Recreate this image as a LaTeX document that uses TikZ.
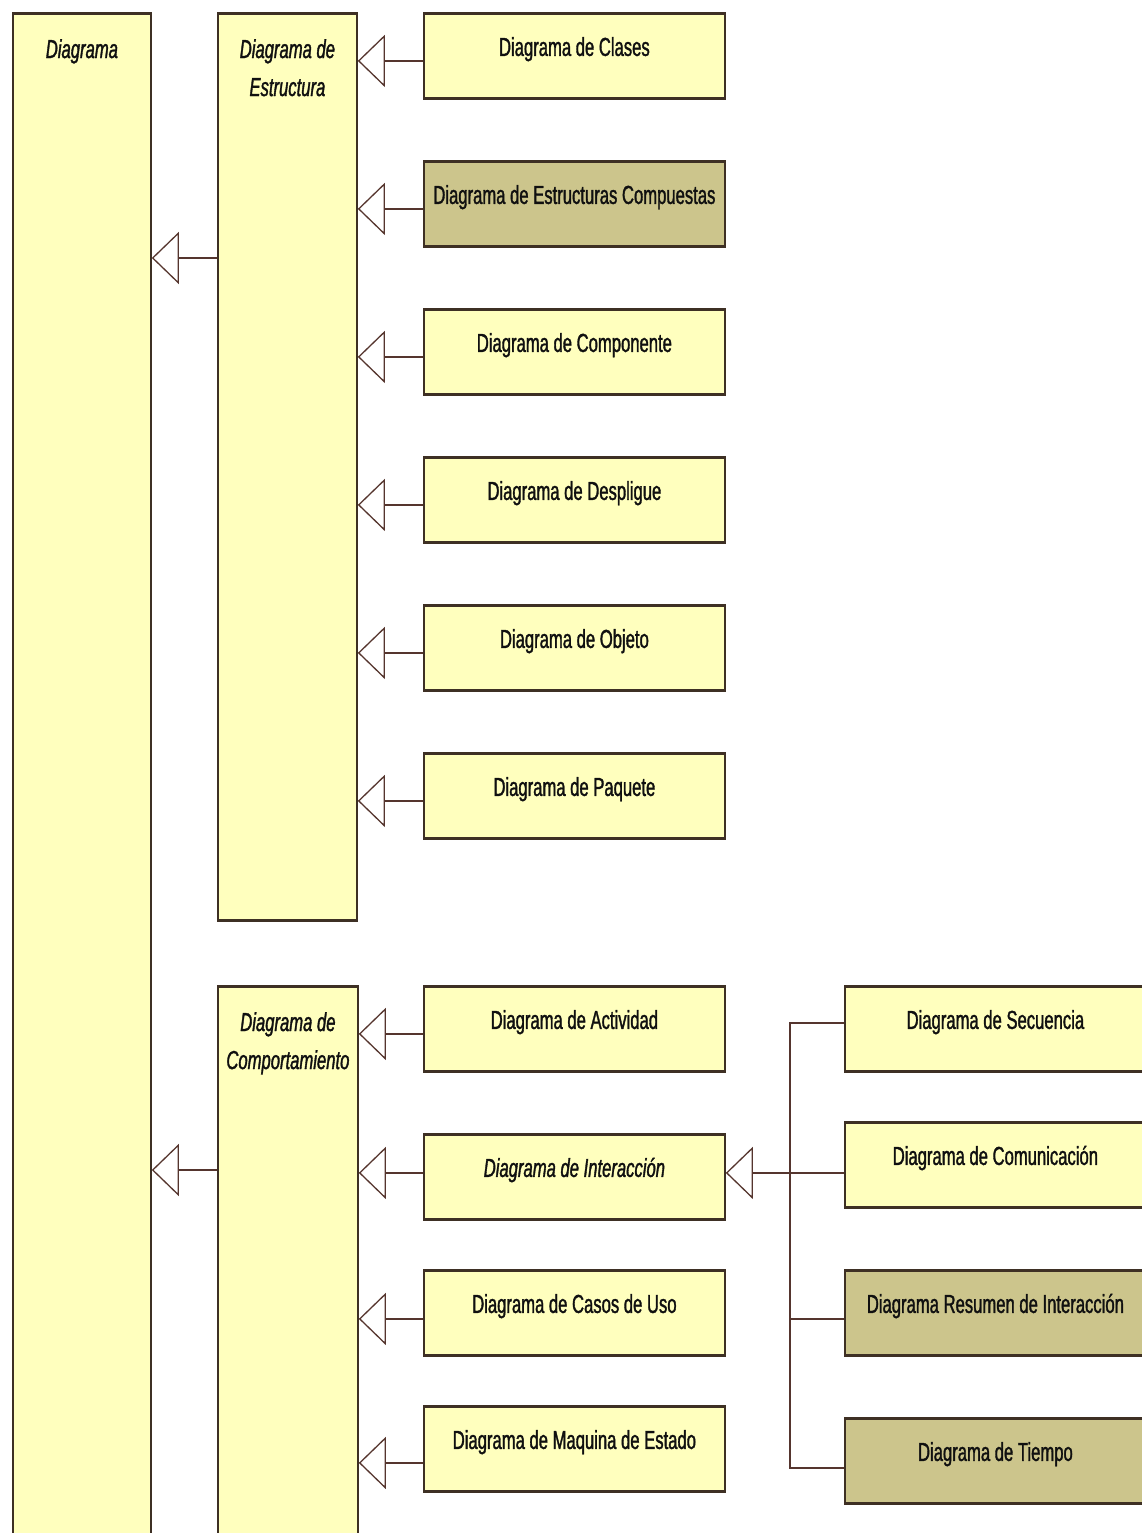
\documentclass[tikz,border=0pt]{standalone}
\usepackage{fontspec}
\setmainfont{Liberation Sans}[FakeStretch=0.64, FakeBold=1.3]
\usetikzlibrary{arrows.meta}
\definecolor{boxfill}{HTML}{FFFFBE}
\definecolor{olivefill}{HTML}{CCC58C}
\definecolor{edgec}{HTML}{3E3024}
\definecolor{wirec}{HTML}{55352E}
\definecolor{inkc}{HTML}{101010}
\begin{document}
\begin{tikzpicture}[x=1pt,y=-1pt,
  box/.style={draw=edgec, line width=1.8pt, fill=boxfill, anchor=north west,
    inner sep=0pt, text=inkc, text height=10pt, text depth=10pt,
    font=\fontsize{26}{30}\selectfont,
    path picture={\draw[edgec, line width=4.4pt]
      (path picture bounding box.north west) -- (path picture bounding box.north east)
      (path picture bounding box.south west) -- (path picture bounding box.south east);}},
  item/.style={box, minimum width=301pt, minimum height=86pt},
  olive/.style={fill=olivefill},
  heading/.style={anchor=north, align=center, inner sep=0pt, text=inkc,
    font=\itshape\fontsize{26}{38}\selectfont},
  gen/.style={draw=wirec, line width=1.9pt,
    -{Triangle[open, length=27pt, width=52pt, line width=1.3pt]}},
  wire/.style={draw=wirec, line width=1.9pt},
]
\useasboundingbox (0,0) rectangle (1142,1533);
\fill[white] (0,0) rectangle (1142,1533);
\clip (0,0) rectangle (1142,1533);

% abstract columns
\node[box, minimum width=138pt, minimum height=1540pt] (diag) at (12,12) {};
\node[box, minimum width=139pt, minimum height=908pt] (estr) at (217,12) {};
\node[box, minimum width=140pt, minimum height=570pt] (comp) at (217,985) {};
\node[heading] (diagT) at ([yshift=-27pt]diag.north) {Diagrama};
\node[heading] (estrT) at ([yshift=-27pt]estr.north) {Diagrama de\\Estructura};
\node[heading] (compT) at ([yshift=-27pt]comp.north) {Diagrama de\\Comportamiento};

% structure diagrams
\node[item] (clases) at (423,12) {Diagrama de Clases};
\node[item, olive] (compuestas) at (423,160) {Diagrama de Estructuras Compuestas};
\node[item] (componente) at (423,308) {Diagrama de Componente};
\node[item] (despligue) at (423,456) {Diagrama de Despligue};
\node[item] (objeto) at (423,604) {Diagrama de Objeto};
\node[item] (paquete) at (423,752) {Diagrama de Paquete};

% behaviour diagrams
\node[item] (actividad) at (423,985) {Diagrama de Actividad};
\node[item, font=\fontsize{26}{30}\selectfont\itshape] (inter) at (423,1133) {Diagrama de Interacción};
\node[item] (casos) at (423,1269) {Diagrama de Casos de Uso};
\node[item] (maquina) at (423,1405) {Diagrama de Maquina de Estado};

% interaction diagrams
\node[item] (sec) at (844,985) {Diagrama de Secuencia};
\node[item] (com) at (844,1121) {Diagrama de Comunicación};
\node[item, olive] (res) at (844,1269) {Diagrama Resumen de Interacción};
\node[item, olive] (tie) at (844,1417) {Diagrama de Tiempo};

% generalisations into the structure column
\foreach \n/\dy in {clases/-5, compuestas/-5, componente/-5, despligue/-5, objeto/-5, paquete/-5}{
  \coordinate (\n-in) at ([yshift=\dy pt]\n.west);
  \draw[gen] (\n-in) -- (\n-in -| estr.east);
}
% generalisations into the behaviour column
\foreach \n/\dy in {actividad/-5, inter/4, casos/-6, maquina/-14}{
  \coordinate (\n-in) at ([yshift=\dy pt]\n.west);
  \draw[gen] (\n-in) -- (\n-in -| comp.east);
}
% generalisations into the root column
\coordinate (estr-in) at (217,258);
\coordinate (comp-in) at (217,1170);
\draw[gen] (estr-in) -- (estr-in -| diag.east);
\draw[gen] (comp-in) -- (comp-in -| diag.east);

% interaction bus
\coordinate (bus) at (790,1100);
\coordinate (sec-in) at ([yshift=6pt]sec.west);
\coordinate (com-in) at ([yshift=4pt]inter.west -| com.west);
\coordinate (res-in) at ([yshift=-6pt]res.west);
\coordinate (tie-in) at ([yshift=-7pt]tie.west);
\draw[wire] (sec-in) -- (bus |- sec-in) -- (bus |- tie-in) -- (tie-in);
\draw[wire] (res-in) -- (bus |- res-in);
\draw[gen] (com-in) -- (com-in -| inter.east);
\end{tikzpicture}
\end{document}
